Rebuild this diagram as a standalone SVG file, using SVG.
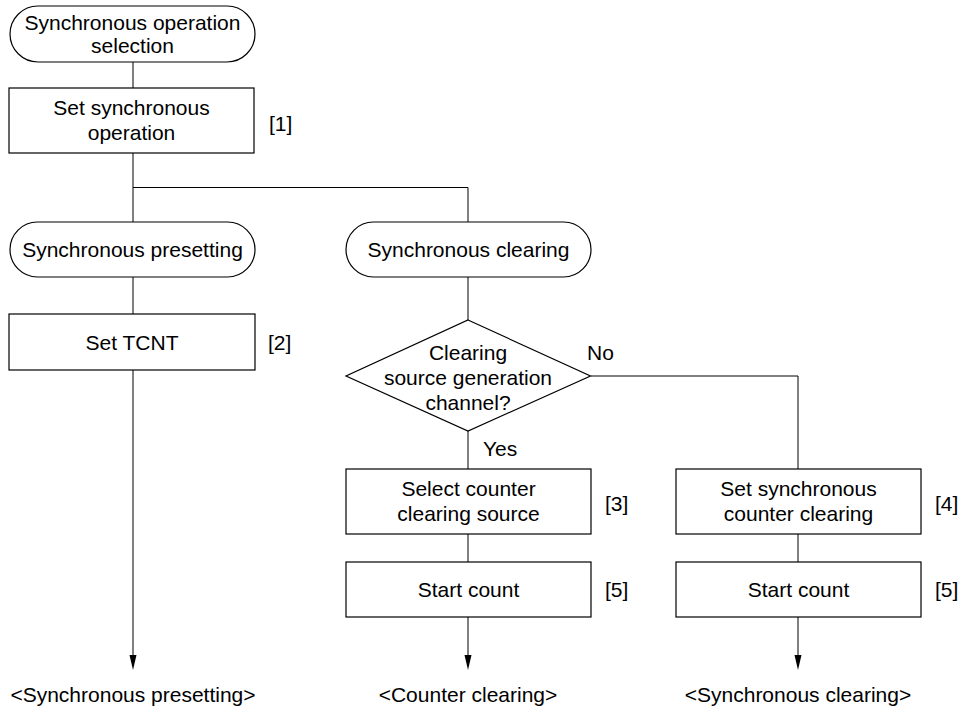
<svg xmlns="http://www.w3.org/2000/svg" width="961" height="708" viewBox="0 0 961 708">
<style>
.s{fill:#fff;stroke:#000;stroke-width:1.2}
.c{fill:none;stroke:#000;stroke-width:1}
text{font-family:"Liberation Sans",Arial,sans-serif;font-size:21px;fill:#000}
.m{text-anchor:middle}
</style>
<defs>
<marker id="ah" viewBox="0 0 8 15" refX="4" refY="15" markerWidth="8" markerHeight="15" markerUnits="userSpaceOnUse" orient="auto-start-reverse">
<path d="M0.5,0 L7.5,0 L4,15 Z" fill="#000"/>
</marker>
</defs>
<g id="connectors">
<path class="c" d="M133,62 V88"/>
<path class="c" d="M133,153 V222"/>
<path class="c" d="M133,187.5 H468 V222"/>
<path class="c" d="M133,277 V314"/>
<path class="c" d="M133,370 V655"/>
<path d="M129.5,655 L136.5,655 L133,670 Z"/>
<path class="c" d="M468,277 V320"/>
<path class="c" d="M468,431 V469"/>
<path class="c" d="M468,534 V562"/>
<path class="c" d="M468,617 V655"/>
<path d="M464.5,655 L471.5,655 L468,670 Z"/>
<path class="c" d="M591,376 H798 V469"/>
<path class="c" d="M798,534 V562"/>
<path class="c" d="M798,617 V655"/>
<path d="M794.5,655 L801.5,655 L798,670 Z"/>
<text x="587" y="360">No</text>
<text x="483" y="456">Yes</text>
</g>
<g id="start">
<rect class="s" x="10" y="6" width="245" height="56" rx="28" ry="28"/>
<text class="m" x="132.5" y="30">Synchronous operation</text>
<text class="m" x="132.5" y="53">selection</text>
</g>
<g id="set-sync-op">
<rect class="s" x="9" y="88" width="245" height="65"/>
<text class="m" x="131.5" y="115">Set synchronous</text>
<text class="m" x="131.5" y="140">operation</text>
<text x="269" y="131">[1]</text>
</g>
<g id="sync-presetting">
<rect class="s" x="10" y="222" width="245" height="55" rx="27.5" ry="27.5"/>
<text class="m" x="132.5" y="257">Synchronous presetting</text>
</g>
<g id="set-tcnt">
<rect class="s" x="9" y="314" width="246" height="56"/>
<text class="m" x="132" y="350">Set TCNT</text>
<text x="268" y="350">[2]</text>
</g>
<g id="end-presetting">
<text class="m" x="133" y="702">&lt;Synchronous presetting&gt;</text>
</g>
<g id="sync-clearing">
<rect class="s" x="346" y="222" width="245" height="55" rx="27.5" ry="27.5"/>
<text class="m" x="468.5" y="257">Synchronous clearing</text>
</g>
<g id="decision">
<polygon class="s" points="468,320 590.5,376 468,431 346,376"/>
<text class="m" x="468" y="360">Clearing</text>
<text class="m" x="468" y="385">source generation</text>
<text class="m" x="468" y="410">channel?</text>
</g>
<g id="select-source">
<rect class="s" x="346" y="469" width="245" height="65"/>
<text class="m" x="468.5" y="496">Select counter</text>
<text class="m" x="468.5" y="521">clearing source</text>
<text x="605" y="511">[3]</text>
</g>
<g id="start-count-1">
<rect class="s" x="346" y="562" width="245" height="55"/>
<text class="m" x="468.5" y="597">Start count</text>
<text x="605" y="597">[5]</text>
</g>
<g id="end-counter-clearing">
<text class="m" x="468" y="702">&lt;Counter clearing&gt;</text>
</g>
<g id="set-sync-clear">
<rect class="s" x="676" y="469" width="245" height="65"/>
<text class="m" x="798.5" y="496">Set synchronous</text>
<text class="m" x="798.5" y="521">counter clearing</text>
<text x="935" y="511">[4]</text>
</g>
<g id="start-count-2">
<rect class="s" x="676" y="562" width="245" height="55"/>
<text class="m" x="798.5" y="597">Start count</text>
<text x="935" y="597">[5]</text>
</g>
<g id="end-sync-clearing">
<text class="m" x="798" y="702">&lt;Synchronous clearing&gt;</text>
</g>
</svg>
